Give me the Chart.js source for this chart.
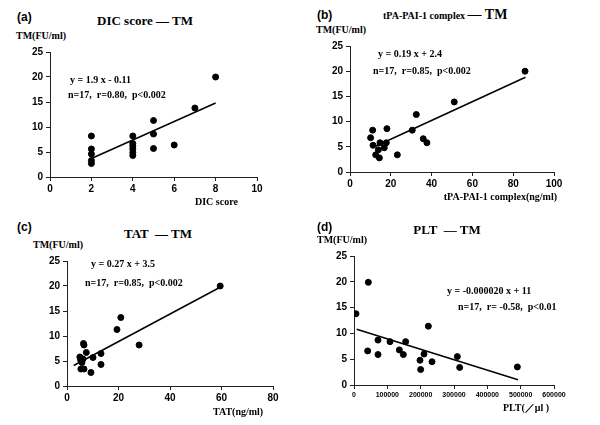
<!DOCTYPE html>
<html>
<head>
<meta charset="utf-8">
<script src="https://cdn.jsdelivr.net/npm/chart.js@4"></script>
<style>
  body { margin: 0; background: #fff; }
  #wrap { position: relative; width: 600px; height: 425px; overflow: hidden; background: #fff; }
  canvas { position: absolute; }
  .t { position: absolute; white-space: pre; color: #000; line-height: 1; }
  .serif { font-family: "Liberation Serif", "DejaVu Serif", serif; font-weight: bold; }
  .sans { font-family: "Liberation Sans", Arial, sans-serif; font-weight: bold; }
</style>
</head>
<body>
<div id="wrap"></div>
<script>
// tick labels
const yTicks = [0, 5, 10, 15, 20, 25]
const dicTicks = [0, 2, 4, 6, 8, 10]
const tpaTicks = [0, 20, 40, 60, 80, 100]
const tatTicks = [0, 20, 40, 60, 80]
const pltTicks = [0, 100000, 200000, 300000, 400000, 500000, 600000]

// (a) DIC score vs TM
const dicX = [2, 2, 2, 2, 2, 4, 4, 4, 4, 4, 4, 5, 5, 5, 6, 7, 8]
const dicY = [8.2, 5.6, 4.6, 3.3, 2.7, 8.2, 6.7, 6.2, 5.6, 4.9, 4.3, 11.3, 8.6, 5.7, 6.4, 13.8, 20.0]
const dicLineX = [2, 8]
const dicLineY = [3.7, 14.8]

// (b) tPA-PAI-1 complex vs TM
const tpaX = [51.1, 32.5, 30.5, 18.1, 11.1, 10.1, 11.3, 14.7, 17.8, 13.9, 16.8, 12.6, 14.4, 23.2, 35.9, 37.7, 85.8]
const tpaY = [13.9, 11.4, 8.3, 8.6, 8.3, 6.8, 5.3, 5.8, 5.8, 4.4, 4.8, 3.4, 2.8, 3.4, 6.6, 5.8, 20.0]
const tpaLineX = [12.5, 86]
const tpaLineY = [5.1, 18.8]

// (c) TAT vs TM
const tatX = [59.5, 20.9, 19.4, 28.0, 6.4, 6.6, 7.5, 5.0, 5.3, 5.8, 10.1, 13.2, 13.2, 5.4, 6.6, 9.3, 6.2]
const tatY = [20.0, 13.7, 11.3, 8.2, 8.5, 8.2, 6.7, 5.8, 5.2, 4.7, 5.7, 6.5, 4.3, 3.4, 3.4, 2.7, 5.4]
const tatLineX = [2.6, 60]
const tatLineY = [4.1, 19.9]

// (d) PLT vs TM
const pltX = [6000, 43000, 41000, 72000, 72000, 108000, 136000, 148000, 155000, 223000, 198000, 210000, 200000, 234000, 310000, 317000, 490000]
const pltY = [13.8, 19.9, 6.6, 8.7, 5.9, 8.4, 6.8, 5.9, 8.4, 11.4, 4.8, 6.0, 3.0, 4.5, 5.5, 3.4, 3.5]
const pltLineX = [8000, 492000]
const pltLineY = [10.8, 1.0]

const wrap = document.getElementById('wrap')

function addText(str, x, y, cls, size, align) {
    const d = document.createElement('div')
    d.className = 't ' + cls
    d.style.fontSize = size + 'px'
    d.style.left = x + 'px'
    d.style.top = y + 'px'
    let tx = '0'
    if (align === 'center') tx = '-50%'
    if (align === 'right') tx = '-100%'
    d.style.transform = 'translate(' + tx + ', -50%)'
    d.textContent = str
    wrap.appendChild(d)
    return d
}

function toPoints(xs, ys) {
    return xs.map((x, i) => ({ x: x, y: ys[i] }))
}

function makePanel(area, xTicks, xs, ys, lx, ly, xFont) {
    const padL = 45, padT = 10, padR = 28, padB = 25
    const canvas = document.createElement('canvas')
    const w = area.r - area.l + padL + padR
    const h = area.b - area.t + padT + padB
    canvas.width = w
    canvas.height = h
    canvas.style.left = (area.l - padL) + 'px'
    canvas.style.top = (area.t - padT) + 'px'
    canvas.style.width = w + 'px'
    canvas.style.height = h + 'px'
    wrap.appendChild(canvas)

    const axisGrid = { drawOnChartArea: false, drawTicks: true, tickLength: 4, color: '#222' }
    new Chart(canvas.getContext('2d'), {
        type: 'scatter',
        data: {
            datasets: [{
                data: toPoints(xs, ys),
                backgroundColor: '#000',
                borderColor: '#000',
                pointRadius: 3,
                pointHoverRadius: 3,
            }, {
                type: 'line',
                data: toPoints(lx, ly),
                borderColor: '#000',
                borderWidth: 1.5,
                pointRadius: 0,
                fill: false,
            }]
        },
        options: {
            responsive: false,
            animation: false,
            devicePixelRatio: 1,
            layout: { padding: { left: 0, top: padT, right: padR, bottom: 0 } },
            plugins: { legend: { display: false }, tooltip: { enabled: false } },
            scales: {
                x: {
                    type: 'linear',
                    min: xTicks[0],
                    max: xTicks[xTicks.length - 1],
                    afterBuildTicks: s => { s.ticks = xTicks.map(v => ({ value: v })) },
                    afterFit: s => { s.height = padB },
                    grid: axisGrid,
                    border: { color: '#222', width: 1 },
                    ticks: {
                        color: '#000',
                        padding: 2,
                        maxRotation: 0,
                        autoSkip: false,
                        font: { family: 'Liberation Sans', weight: 'bold', size: xFont },
                        callback: v => String(v),
                    },
                },
                y: {
                    min: 0,
                    max: 25,
                    afterBuildTicks: s => { s.ticks = yTicks.map(v => ({ value: v })) },
                    afterFit: s => { s.width = padL },
                    grid: axisGrid,
                    border: { color: '#222', width: 1 },
                    ticks: {
                        color: '#000',
                        padding: 3,
                        font: { family: 'Liberation Sans', weight: 'bold', size: 10 },
                    },
                },
            },
        },
    })
}

makePanel({ l: 50, t: 52, r: 257, b: 177 }, dicTicks, dicX, dicY, dicLineX, dicLineY, 10)
makePanel({ l: 350, t: 46, r: 554, b: 172 }, tpaTicks, tpaX, tpaY, tpaLineX, tpaLineY, 10)
makePanel({ l: 67, t: 261, r: 273, b: 386 }, tatTicks, tatX, tatY, tatLineX, tatLineY, 10)
makePanel({ l: 354, t: 256, r: 554, b: 385 }, pltTicks, pltX, pltY, pltLineX, pltLineY, 7)

// (a)
addText('(a)', 17, 17, 'sans', 12, 'left')
addText('DIC score \u2014 TM', 145, 20, 'serif', 13, 'center')
addText('TM(FU/ml)', 16, 36, 'serif', 10, 'left')
addText('y = 1.9 x - 0.11', 70, 80, 'serif', 10, 'left')
addText('n=17,  r=0.80,  p<0.002', 68, 95, 'serif', 10, 'left')
addText('DIC score', 195, 202, 'serif', 10, 'left')

// (b) title with a small first part and a larger "— TM"
const tpaTitle = addText('', 383, 15, 'serif', 10, 'left')
const tpaSmall = document.createElement('span')
tpaSmall.textContent = 'tPA-PAI-1 complex '
const tpaBig = document.createElement('span')
tpaBig.style.fontSize = '14px'
tpaBig.textContent = '\u2014 TM'
tpaTitle.appendChild(tpaSmall)
tpaTitle.appendChild(tpaBig)
addText('(b)', 317, 15, 'sans', 12, 'left')
addText('TM(FU/ml)', 316, 30, 'serif', 10, 'left')
addText('y = 0.19 x + 2.4', 378, 54, 'serif', 10, 'left')
addText('n=17,  r=0.85,  p<0.002', 373, 71, 'serif', 10, 'left')
addText('tPA-PAI-1 complex(ng/ml)', 557, 197, 'serif', 10, 'right')

// (c)
addText('(c)', 17, 227, 'sans', 12, 'left')
addText('TAT  \u2014 TM', 158, 233, 'serif', 13, 'center')
addText('TM(FU/ml)', 33, 245, 'serif', 10, 'left')
addText('y = 0.27 x + 3.5', 91, 264, 'serif', 10, 'left')
addText('n=17,  r=0.85,  p<0.002', 85, 283, 'serif', 10, 'left')
addText('TAT(ng/ml)', 213, 412, 'serif', 10, 'left')

// (d)
addText('(d)', 317, 227, 'sans', 12, 'left')
addText('PLT  \u2014 TM', 447, 229, 'serif', 13, 'center')
addText('TM(FU/ml)', 317, 240, 'serif', 10, 'left')
addText('y = -0.000020 x + 11', 447, 291, 'serif', 10, 'left')
addText('n=17,  r= -0.58,  p<0.01', 458, 307, 'serif', 10, 'left')
addText('PLT(\uFF0F\u03BCl )', 503, 408, 'serif', 10, 'left')
</script>
</body>
</html>
